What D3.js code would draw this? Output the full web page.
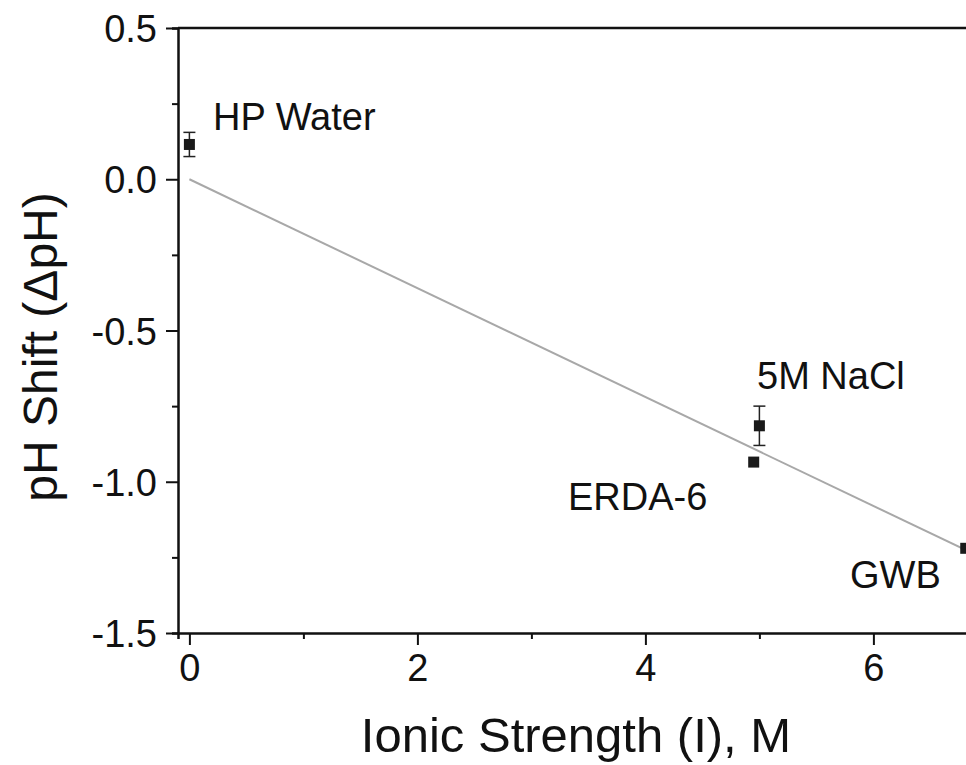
<head>
<meta charset="utf-8">
<script src="https://d3js.org/d3.v7.min.js"></script>
<style>
    body { margin: 0; background: #fff; }
    text { font-family: "Liberation Sans", Arial, sans-serif; fill: #111; }
</style>
</head>
<body>
<svg width="966" height="765"></svg>
<script>
    // data
    var labels = ["HP Water", "ERDA-6", "5M NaCl", "GWB"];
    var ionic = [0, 4.95, 5.0, 6.81];
    var shift = [0.115, -0.935, -0.815, -1.22];
    var errs = [0.04, 0, 0.065, 0];
    var fitX = [0, 6.9];
    var fitY = [0.0, -1.242];
    var xTicks = [0, 2, 4, 6];
    var yTicks = [0.5, 0.0, -0.5, -1.0, -1.5];

    var svg = d3.select("svg");

    var x = d3.scaleLinear().domain([-0.1, 6.9]).range([178, 976]);
    var y = d3.scaleLinear().domain([-1.5, 0.5]).range([633, 28]);

    svg.append("clipPath").attr("id", "plot")
        .append("rect").attr("x", 178).attr("y", 28).attr("width", 800).attr("height", 605);

    //
    // axes
    //

    var xAxis = svg.append("g").attr("transform", "translate(0,633)");
    xAxis.call(d3.axisBottom(x).tickValues(d3.range(0, 7, 1)).tickSize(6).tickFormat(""));
    xAxis.selectAll(".tick").filter(d => xTicks.includes(d))
        .call(t => t.select("line").attr("y2", 12))
        .select("text").text(d => d).attr("y", 12).attr("dy", "0.95em")
        .style("font-size", "38px");

    var yAxis = svg.append("g").attr("transform", "translate(178,0)");
    yAxis.call(d3.axisLeft(y).tickValues(d3.range(-1.5, 0.51, 0.25)).tickSize(6).tickFormat(""));
    yAxis.selectAll(".tick").filter(d => yTicks.some(t => Math.abs(t - d) < 1e-9))
        .call(t => t.select("line").attr("x2", -12))
        .select("text").text(d => d.toFixed(1)).attr("x", -21).attr("dy", "0.36em")
        .style("font-size", "38px");

    svg.selectAll(".domain").attr("stroke-width", 2.5).attr("stroke", "#111");
    svg.selectAll(".tick line").attr("stroke-width", 2).attr("stroke", "#111");

    // top frame line
    svg.append("line")
        .attr("x1", x(-0.1)).attr("x2", 966)
        .attr("y1", y(0.5)).attr("y2", y(0.5))
        .attr("stroke", "#111").attr("stroke-width", 2.5);

    //
    // fit line, error bars, points
    //

    var plot = svg.append("g").attr("clip-path", "url(#plot)");

    plot.append("line")
        .attr("x1", x(fitX[0])).attr("y1", y(fitY[0]))
        .attr("x2", x(fitX[1])).attr("y2", y(fitY[1]))
        .attr("stroke", "#a8a8a8").attr("stroke-width", 2);

    var pts = ionic.map((d, i) => ({x: d, y: shift[i], e: errs[i], label: labels[i]}));

    var eb = plot.selectAll(".err").data(pts.filter(d => d.e > 0)).enter().append("g")
        .attr("stroke", "#222").attr("stroke-width", 1.5);
    eb.append("line").attr("x1", d => x(d.x)).attr("x2", d => x(d.x))
        .attr("y1", d => y(d.y + d.e)).attr("y2", d => y(d.y - d.e));
    eb.append("line").attr("x1", d => x(d.x) - 6).attr("x2", d => x(d.x) + 6)
        .attr("y1", d => y(d.y + d.e)).attr("y2", d => y(d.y + d.e));
    eb.append("line").attr("x1", d => x(d.x) - 6).attr("x2", d => x(d.x) + 6)
        .attr("y1", d => y(d.y - d.e)).attr("y2", d => y(d.y - d.e));

    plot.selectAll(".pt").data(pts).enter().append("rect")
        .attr("x", d => x(d.x) - 5.5).attr("y", d => y(d.y) - 5.5)
        .attr("width", 11).attr("height", 11).attr("fill", "#1a1a1a");

    //
    // point labels
    //

    var labelPos = {
        "HP Water": [213, 130],
        "5M NaCl": [757, 389],
        "ERDA-6": [568, 510],
        "GWB": [850, 588]
    };
    svg.selectAll(".lbl").data(pts).enter().append("text")
        .attr("x", d => labelPos[d.label][0]).attr("y", d => labelPos[d.label][1])
        .style("font-size", "38px")
        .text(d => d.label);

    //
    // axis titles
    //

    svg.append("text")
        .attr("x", 576).attr("y", 752).attr("text-anchor", "middle")
        .style("font-size", "49px")
        .text("Ionic Strength (I), M");

    svg.append("text")
        .attr("transform", "translate(57,347) rotate(-90)")
        .attr("text-anchor", "middle")
        .style("font-size", "48px")
        .text("pH Shift (\u0394pH)");
</script>
</body>
